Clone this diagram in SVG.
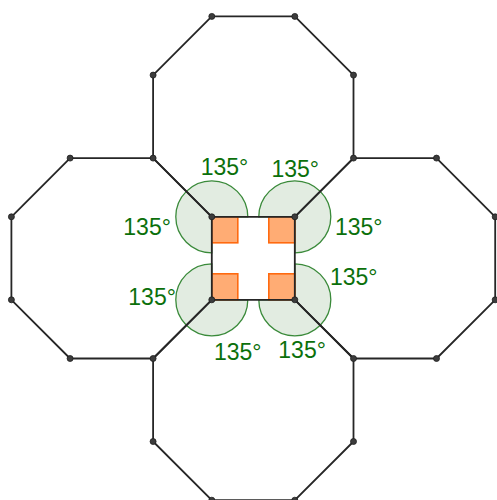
<svg xmlns="http://www.w3.org/2000/svg" width="497" height="500" viewBox="0 0 497 500">
<style>
.oct{fill:none;stroke:#262626;stroke-width:1.8;stroke-linejoin:round}
.ang{fill:#e2ece1;stroke:#3a8a3a;stroke-width:1.3}
.ra{fill:#ff9d5c;fill-opacity:0.85;stroke:#ff6a10;stroke-width:1.6}
.pt{fill:#3c3c3c;stroke:#1e1e1e;stroke-width:0.8}
.lbl{font-family:"Liberation Sans",Arial,sans-serif;font-size:23px;fill:#0b700b}
</style>
<rect width="497" height="500" fill="#ffffff"/>
<g id="angles">
<path class="ang" d="M211.8,216.8 L247.8,216.8 A36,36 0 1 0 211.8,252.8 Z"/>
<path class="ang" d="M294.8,216.8 L258.8,216.8 A36,36 0 1 1 294.8,252.8 Z"/>
<path class="ang" d="M294.8,299.8 L294.8,263.8 A36,36 0 1 1 258.8,299.8 Z"/>
<path class="ang" d="M211.8,299.8 L211.8,263.8 A36,36 0 1 0 247.8,299.8 Z"/>
</g>
<g id="right-angles">
<rect class="ra" x="211.8" y="216.8" width="26" height="26"/>
<rect class="ra" x="268.8" y="216.8" width="26" height="26"/>
<rect class="ra" x="268.8" y="273.8" width="26" height="26"/>
<rect class="ra" x="211.8" y="273.8" width="26" height="26"/>
</g>
<g id="connectors">
<polygon id="octagon-top" class="oct" points="211.8,216.8 294.8,216.8 353.5,158.1 353.5,75.1 294.8,16.4 211.8,16.4 153.1,75.1 153.1,158.1"/>
<polygon id="octagon-right" class="oct" points="294.8,216.8 353.5,158.1 436.5,158.1 495.2,216.8 495.2,299.8 436.5,358.5 353.5,358.5 294.8,299.8"/>
<polygon id="octagon-bottom" class="oct" points="211.8,299.8 294.8,299.8 353.5,358.5 353.5,441.5 294.8,500.2 211.8,500.2 153.1,441.5 153.1,358.5"/>
<polygon id="octagon-left" class="oct" points="211.8,216.8 211.8,299.8 153.1,358.5 70.1,358.5 11.4,299.8 11.4,216.8 70.1,158.1 153.1,158.1"/>
</g>
<g id="points">
<circle class="pt" cx="211.8" cy="216.8" r="3"/>
<circle class="pt" cx="294.8" cy="216.8" r="3"/>
<circle class="pt" cx="294.8" cy="299.8" r="3"/>
<circle class="pt" cx="211.8" cy="299.8" r="3"/>
<circle class="pt" cx="353.5" cy="158.1" r="3"/>
<circle class="pt" cx="353.5" cy="75.1" r="3"/>
<circle class="pt" cx="294.8" cy="16.4" r="3"/>
<circle class="pt" cx="211.8" cy="16.4" r="3"/>
<circle class="pt" cx="153.1" cy="75.1" r="3"/>
<circle class="pt" cx="153.1" cy="158.1" r="3"/>
<circle class="pt" cx="436.5" cy="158.1" r="3"/>
<circle class="pt" cx="495.2" cy="216.8" r="3"/>
<circle class="pt" cx="495.2" cy="299.8" r="3"/>
<circle class="pt" cx="436.5" cy="358.5" r="3"/>
<circle class="pt" cx="353.5" cy="358.5" r="3"/>
<circle class="pt" cx="353.5" cy="441.5" r="3"/>
<circle class="pt" cx="294.8" cy="500.2" r="3"/>
<circle class="pt" cx="211.8" cy="500.2" r="3"/>
<circle class="pt" cx="153.1" cy="441.5" r="3"/>
<circle class="pt" cx="153.1" cy="358.5" r="3"/>
<circle class="pt" cx="70.1" cy="358.5" r="3"/>
<circle class="pt" cx="11.4" cy="299.8" r="3"/>
<circle class="pt" cx="11.4" cy="216.8" r="3"/>
<circle class="pt" cx="70.1" cy="158.1" r="3"/>
</g>
<g id="labels">
<text class="lbl" x="200.7" y="175">135°</text>
<text class="lbl" x="123.3" y="234.5">135°</text>
<text class="lbl" x="271.5" y="176.5">135°</text>
<text class="lbl" x="335" y="235">135°</text>
<text class="lbl" x="330" y="285">135°</text>
<text class="lbl" x="278.3" y="358.3">135°</text>
<text class="lbl" x="214" y="360">135°</text>
<text class="lbl" x="128.3" y="305">135°</text>
</g>
</svg>
